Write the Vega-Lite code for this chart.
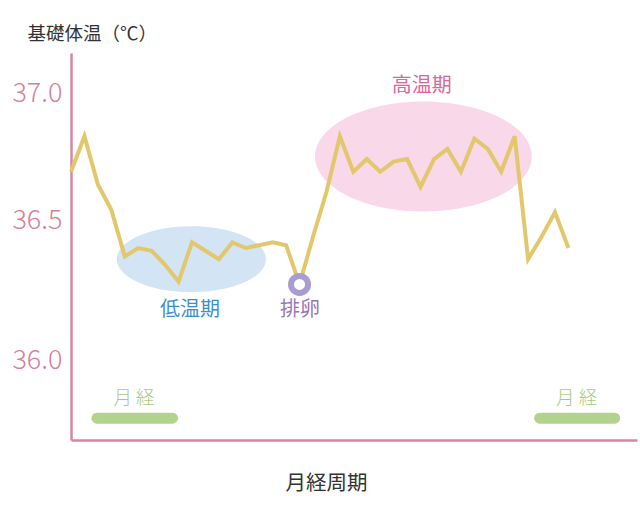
{
  "$schema": "https://vega.github.io/schema/vega-lite/v6.json",
  "width": 566,
  "height": 387,
  "autosize": {"type": "none"},
  "padding": {"left": 71, "top": 53, "right": 3, "bottom": 76},
  "background": "white",
  "config": {"view": {"stroke": null}, "font": "Noto Sans CJK JP"},
  "datasets": {
    "temps": [
      {"day": 1, "temp": 36.69}, {"day": 2, "temp": 36.83}, {"day": 3, "temp": 36.64},
      {"day": 4, "temp": 36.54}, {"day": 5, "temp": 36.37}, {"day": 6, "temp": 36.40},
      {"day": 7, "temp": 36.39}, {"day": 8, "temp": 36.34}, {"day": 9, "temp": 36.28},
      {"day": 10, "temp": 36.42}, {"day": 11, "temp": 36.39}, {"day": 12, "temp": 36.36},
      {"day": 13, "temp": 36.42}, {"day": 14, "temp": 36.40}, {"day": 15, "temp": 36.41},
      {"day": 16, "temp": 36.42}, {"day": 17, "temp": 36.41}, {"day": 18, "temp": 36.27},
      {"day": 19, "temp": 36.44}, {"day": 20, "temp": 36.61}, {"day": 21, "temp": 36.83},
      {"day": 22, "temp": 36.69}, {"day": 23, "temp": 36.74}, {"day": 24, "temp": 36.69},
      {"day": 25, "temp": 36.73}, {"day": 26, "temp": 36.74}, {"day": 27, "temp": 36.63},
      {"day": 28, "temp": 36.74}, {"day": 29, "temp": 36.78}, {"day": 30, "temp": 36.69},
      {"day": 31, "temp": 36.82}, {"day": 32, "temp": 36.78}, {"day": 33, "temp": 36.69},
      {"day": 34, "temp": 36.83}, {"day": 35, "temp": 36.36}, {"day": 36, "temp": 36.44},
      {"day": 37, "temp": 36.53}, {"day": 38, "temp": 36.40}
    ]
  },
  "encoding": {
    "x": {
      "field": "day",
      "type": "quantitative",
      "scale": {"domain": [1, 43.1], "nice": false, "zero": false},
      "axis": {
        "title": "月経周期",
        "titleFontSize": 20.5,
        "titleFontWeight": "normal",
        "titleColor": "#333333",
        "titleX": 255,
        "titleY": 43,
        "titleAlign": "center",
        "titleBaseline": "middle",
        "labels": false,
        "ticks": false,
        "grid": false,
        "domainColor": "#d9869f",
        "domainWidth": 2.5
      }
    },
    "y": {
      "field": "temp",
      "type": "quantitative",
      "scale": {"domain": [35.714, 36.0, 36.5, 37.0, 37.159], "range": [387, 307, 167, 40, 0], "nice": false, "zero": false},
      "axis": {
        "title": "基礎体温（℃）",
        "titleAngle": 0,
        "titleX": -44,
        "titleY": -20,
        "titleAlign": "left",
        "titleBaseline": "middle",
        "titleFontSize": 18.5,
        "titleFontWeight": "normal",
        "titleColor": "#333333",
        "values": [36.0, 36.5, 37.0],
        "format": ".1f",
        "labelFontSize": 27,
        "labelFontWeight": 300,
        "labelColor": "#d67f9c",
        "labelPadding": 9,
        "ticks": false,
        "grid": false,
        "domainColor": "#d9869f",
        "domainWidth": 2.5
      }
    }
  },
  "layer": [
    {
      "data": {"values": [{"day": 9.95, "temp": 36.36}]},
      "mark": {
        "type": "point",
        "shape": "M-1,0C-1,-0.2447,-0.5523,-0.443,0,-0.443C0.5523,-0.443,1,-0.2447,1,0C1,0.2447,0.5523,0.443,0,0.443C-0.5523,0.443,-1,0.2447,-1,0Z",
        "size": 22201,
        "filled": true,
        "fill": "#d3e4f5",
        "opacity": 1,
        "strokeWidth": 0
      }
    },
    {
      "data": {"values": [{"day": 27.21, "temp": 36.75}]},
      "mark": {
        "type": "point",
        "shape": "M-1,0C-1,-0.2806,-0.5523,-0.508,0,-0.508C0.5523,-0.508,1,-0.2806,1,0C1,0.2806,0.5523,0.508,0,0.508C-0.5523,0.508,-1,0.2806,-1,0Z",
        "size": 46959,
        "filled": true,
        "fill": "#f8d8e9",
        "opacity": 1,
        "strokeWidth": 0
      }
    },
    {
      "data": {"name": "temps"},
      "mark": {"type": "line", "color": "#e2c76c", "strokeWidth": 4, "strokeJoin": "miter"}
    },
    {
      "data": {"values": [{"day": 18, "temp": 36.27}]},
      "mark": {"type": "point", "shape": "circle", "size": 290, "filled": true, "fill": "white", "stroke": "#a99cd1", "strokeWidth": 6, "opacity": 1}
    },
    {
      "data": {"values": [{"day": 27.09, "temp": 37.029, "label": "高温期"}]},
      "mark": {"type": "text", "fontSize": 20, "fontWeight": "normal", "color": "#d9679a", "baseline": "middle", "align": "center"},
      "encoding": {"text": {"field": "label"}}
    },
    {
      "data": {"values": [{"day": 9.85, "temp": 36.18, "label": "低温期"}]},
      "mark": {"type": "text", "fontSize": 20, "fontWeight": "normal", "color": "#3b8fd0", "baseline": "middle", "align": "center"},
      "encoding": {"text": {"field": "label"}}
    },
    {
      "data": {"values": [{"day": 18.04, "temp": 36.18, "label": "排卵"}]},
      "mark": {"type": "text", "fontSize": 20, "fontWeight": "normal", "color": "#9876b4", "baseline": "middle", "align": "center"},
      "encoding": {"text": {"field": "label"}}
    },
    {
      "data": {"values": [{"day": 5.69, "temp": 35.864, "label": "月 経"}, {"day": 38.61, "temp": 35.864, "label": "月 経"}]},
      "mark": {"type": "text", "fontSize": 18.5, "fontWeight": 300, "color": "#a9c882", "baseline": "middle", "align": "center"},
      "encoding": {"text": {"field": "label"}}
    },
    {
      "data": {"values": [{"day": 2.93, "day2": 8.55, "temp": 35.792}, {"day": 35.86, "day2": 41.44, "temp": 35.792}]},
      "mark": {"type": "rule", "color": "#b3d28d", "strokeWidth": 11, "strokeCap": "round"},
      "encoding": {"x2": {"field": "day2"}}
    }
  ]
}
